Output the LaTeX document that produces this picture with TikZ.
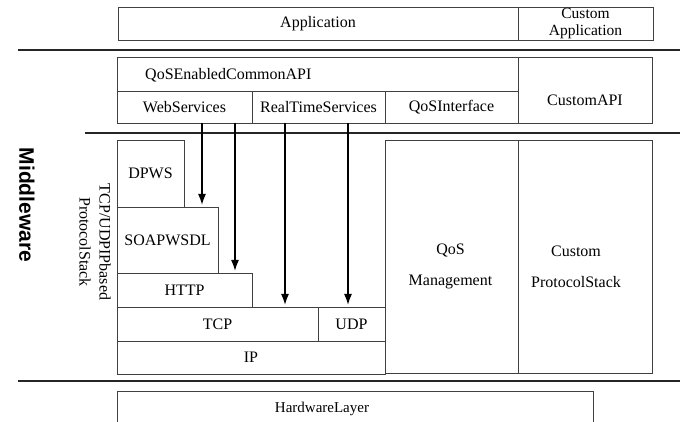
\documentclass[tikz,border=0pt]{standalone}
\usepackage{fontspec}
\setmainfont{Liberation Serif}
\newfontfamily\headsans{Liberation Sans}
\usetikzlibrary{arrows.meta}
\tikzset{
  blk/.style={draw=black!75, line width=0.9pt, inner sep=0pt, font=\fontsize{16}{18}\selectfont},
  lbl/.style={inner sep=0pt, font=\fontsize{16}{18}\selectfont},
  sepline/.style={draw=black!85, line width=1.1pt},
  flow/.style={line width=1.6pt, -{Latex[length=11pt,width=8pt]}},
}
\newcommand\bx[6]{\node[blk, minimum width={(#4-#2)*1pt}, minimum height={(#5-#3)*1pt}] (#1) at ({(#2+#4)/2},{(#3+#5)/2}) {#6};}
\begin{document}
\begin{tikzpicture}[x=1pt,y=-1pt]
\useasboundingbox (0,0) rectangle (686,422);
\clip (0,0) rectangle (686,422);
% application layer
\bx{app}{118}{7}{518}{40}{Application}
\bx{capp}{518}{7}{653}{40}{}
\node[lbl, align=center, font=\fontsize{15.5}{16.5}\selectfont] (cappt) at (585.5,23.5) {Custom\\Application};
% separators
\coordinate (s1a) at (18,50); \coordinate (s1b) at (680,50);
\coordinate (s2a) at (85,133); \coordinate (s2b) at (680,133);
\coordinate (s3a) at (18,381); \coordinate (s3b) at (680,381);
\draw[sepline] (s1a) -- (s1b);
\draw[sepline] (s2a) -- (s2b);
\draw[sepline] (s3a) -- (s3b);
% API layer
\bx{api}{117}{57}{518}{91}{}
\node[lbl, anchor=west] (apit) at (145,75) {QoSEnabledCommonAPI};
\bx{ws}{117}{91}{252}{123}{WebServices}
\bx{rts}{252}{91}{385}{123}{RealTimeServices}
\bx{qi}{385}{91}{518}{123}{QoSInterface}
\bx{capi}{518}{57}{652}{123}{}
\node[lbl] (capit) at (585,100) {CustomAPI};
% protocol stack
\bx{dpws}{117}{140}{184}{207}{DPWS}
\bx{soap}{117}{207}{218}{273}{SOAPWSDL}
\bx{http}{117}{273}{252}{307}{HTTP}
\bx{tcp}{117}{307}{318}{341}{TCP}
\bx{udp}{318}{307}{385}{341}{UDP}
\bx{ip}{117}{341}{385}{374}{IP}
\bx{qosm}{385}{140}{518}{373}{}
\bx{cps}{518}{140}{652}{373}{}
\node[lbl, align=center, font=\fontsize{16}{31}\selectfont] (qosmt) at (450.5,266.5) {QoS\\Management};
\node[lbl, align=center, font=\fontsize{16}{31}\selectfont] (cpst) at (576,266.5) {Custom\\ProtocolStack};
% hardware
\bx{hw}{117}{391}{593}{440}{}
\node[lbl, font=\fontsize{15}{17}\selectfont] (hwt) at (322,409) {HardwareLayer};
% side labels
\node[inner sep=0pt, rotate=-90, font=\headsans\bfseries\fontsize{21}{23}\selectfont] (mw) at (27,205) {Middleware};
\node[inner sep=0pt, rotate=-90, align=center, font=\fontsize{16}{20}\selectfont] (tcpl) at (95,242) {TCP/UDPIPbased\\ProtocolStack};
% arrows
\coordinate (a1s) at (202,123); \coordinate (a1e) at (202,205);
\coordinate (a2s) at (235,123); \coordinate (a2e) at (235,271);
\coordinate (a3s) at (285,123); \coordinate (a3e) at (285,305);
\coordinate (a4s) at (348,123); \coordinate (a4e) at (348,305);
\draw[flow] (a1s) -- (a1e);
\draw[flow] (a2s) -- (a2e);
\draw[flow] (a3s) -- (a3e);
\draw[flow] (a4s) -- (a4e);
\end{tikzpicture}
\end{document}
